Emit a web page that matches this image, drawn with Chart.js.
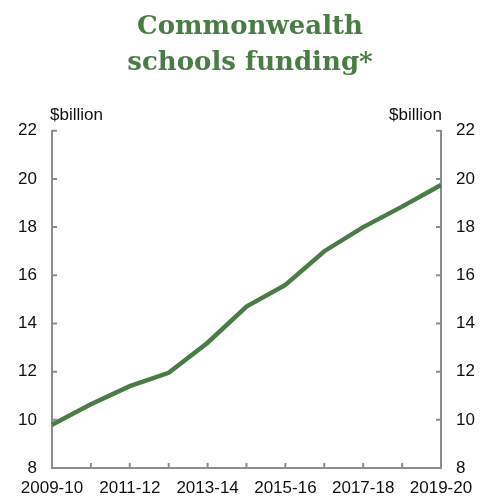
<!DOCTYPE html>
<html>
<head>
<meta charset="utf-8">
<script src="https://cdn.jsdelivr.net/npm/chart.js@4/dist/chart.umd.min.js"></script>
<style>
  html, body { margin: 0; padding: 0; background: #fff; }
  #wrap { width: 500px; height: 504px; }
</style>
</head>
<body>
<div id="wrap"><canvas id="myChart" width="500" height="504"></canvas></div>
<script>
const years = ["2009-10", "2010-11", "2011-12", "2012-13", "2013-14", "2014-15",
  "2015-16", "2016-17", "2017-18", "2018-19", "2019-20"];
const funding = [9.8, 10.65, 11.4, 11.95, 13.2, 14.7, 15.6, 17.0, 18.0, 18.85, 19.75];
const yTicks = [8, 10, 12, 14, 16, 18, 20, 22];
const unitLabel = "$billion";
const titleLines = ["Commonwealth", "schools funding*"];

const green = "#4a7d45";
const axisGrey = "#8c8c8c";
const textColor = "#111111";
const labelFont = { family: "Arial, 'Liberation Sans', sans-serif", size: 17 };

// short inward ticks + unit labels
const innerTicks = {
  id: "innerTicks",
  afterDraw(chart) {
    const { ctx, chartArea } = chart;
    const x = chart.scales.x, yl = chart.scales.y, yr = chart.scales.y2;
    ctx.save();
    ctx.strokeStyle = axisGrey;
    ctx.lineWidth = 2;
    ctx.beginPath();
    x.ticks.forEach((t, i) => {
      const px = x.getPixelForTick(i);
      ctx.moveTo(px, chartArea.bottom);
      ctx.lineTo(px, chartArea.bottom - 5);
    });
    yl.ticks.forEach((t, i) => {
      const py = yl.getPixelForTick(i);
      ctx.moveTo(chartArea.left, py);
      ctx.lineTo(chartArea.left + 5, py);
    });
    yr.ticks.forEach((t, i) => {
      const py = yr.getPixelForTick(i);
      ctx.moveTo(chartArea.right, py);
      ctx.lineTo(chartArea.right - 5, py);
    });
    ctx.stroke();

    ctx.fillStyle = textColor;
    ctx.font = `${labelFont.size}px ${labelFont.family}`;
    ctx.textBaseline = "bottom";
    ctx.textAlign = "left";
    ctx.fillText(unitLabel, chartArea.left - 2, chartArea.top - 7);
    ctx.textAlign = "right";
    ctx.fillText(unitLabel, chartArea.right + 1, chartArea.top - 7);
    ctx.restore();
  },
};

const yScale = (position, width) => ({
  type: "linear",
  position,
  min: 8,
  max: 22,
  afterBuildTicks: (s) => { s.ticks = yTicks.map((v) => ({ value: v })); },
  afterFit: (s) => { s.width = width; },
  grid: { display: false, drawTicks: false },
  border: { display: true, color: axisGrey, width: 2 },
  ticks: { color: textColor, font: labelFont, padding: 15 },
});

const ctx = document.getElementById("myChart");

const myChart = new Chart(ctx, {
  type: "line",
  plugins: [innerTicks],
  data: {
    labels: years,
    datasets: [
      {
        label: "Commonwealth schools funding",
        data: funding,
        borderColor: green,
        borderWidth: 4.5,
        pointRadius: 0,
        tension: 0,
        yAxisID: "y",
      },
    ],
  },
  options: {
    responsive: false,
    animation: false,
    layout: { padding: { top: 4, left: 0, right: 0, bottom: 0 } },
    plugins: {
      legend: { display: false },
      tooltip: { enabled: false },
      title: {
        display: true,
        text: titleLines,
        color: green,
        font: { family: "'DejaVu Serif', serif", size: 26, weight: "bold", lineHeight: 1.38 },
        padding: { top: 5, bottom: 50 },
      },
    },
    scales: {
      x: {
        offset: false,
        afterFit: (s) => { s.height = 36; },
        grid: { display: false, drawTicks: false },
        border: { display: true, color: axisGrey, width: 2 },
        ticks: {
          color: textColor,
          font: labelFont,
          padding: 10,
          autoSkip: false,
          maxRotation: 0,
          callback: (v, i) => (i % 2 === 0 ? years[i] : ""),
        },
      },
      y: yScale("left", 52),
      y2: yScale("right", 59),
    },
  },
});
</script>
</body>
</html>
